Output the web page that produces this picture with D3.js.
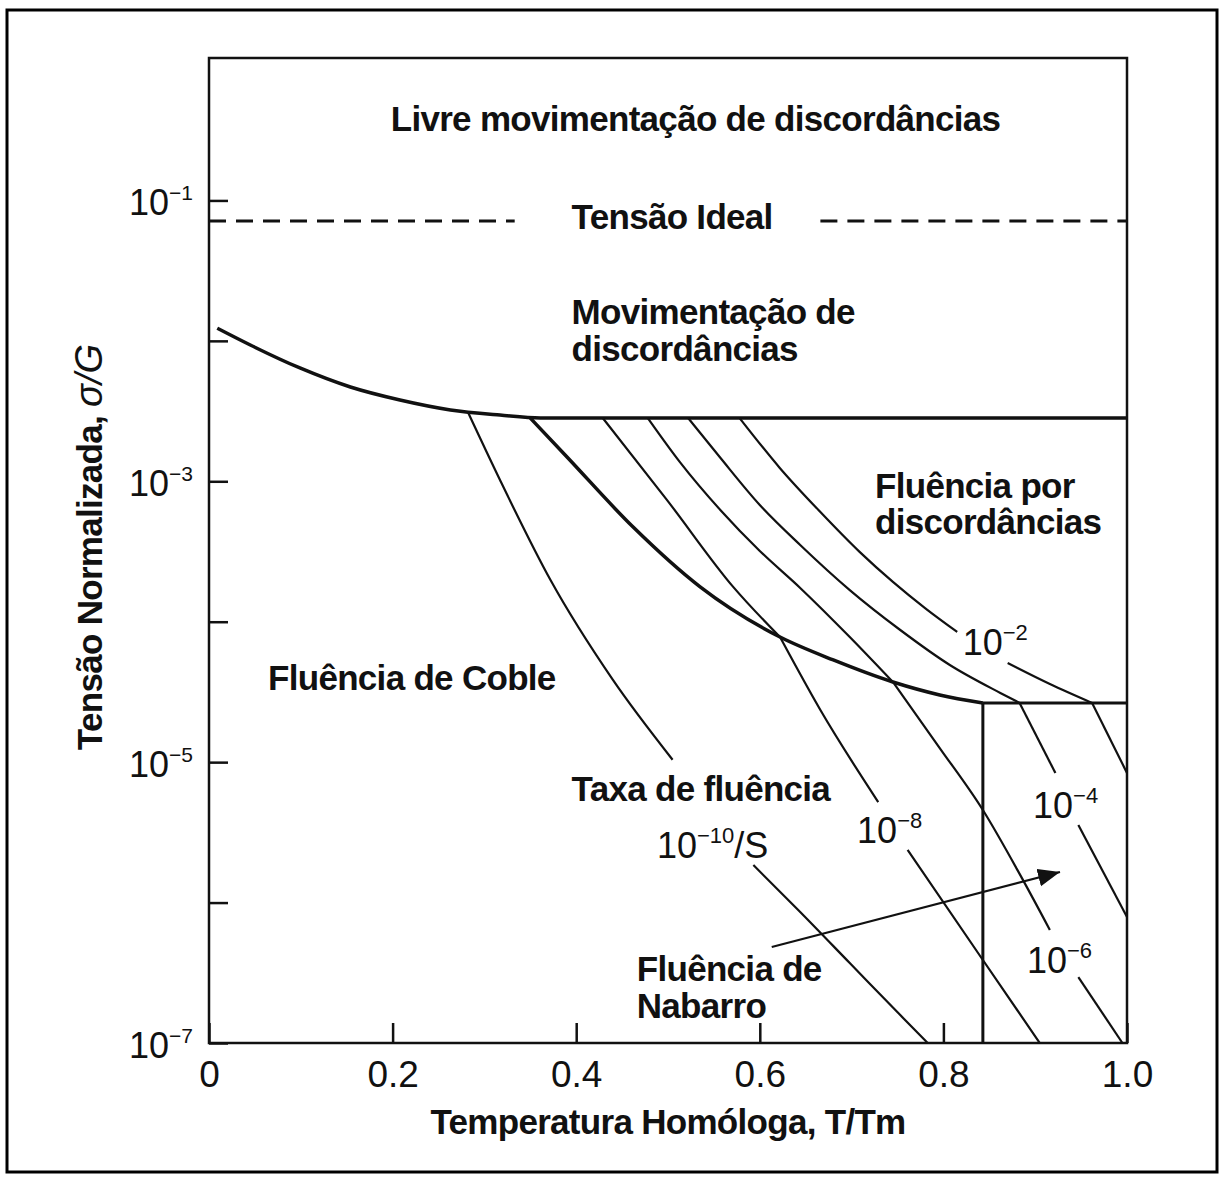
<!doctype html>
<html>
<head>
<meta charset="utf-8">
<style>
    body { margin: 0; background: #fff; }
    svg { font-family: "Liberation Sans", Arial, sans-serif; }
</style>
<script src="https://d3js.org/d3.v7.min.js"></script>
</head>
<body>

<svg id="map" width="1220" height="1177"></svg>

<script>

// axis ticks
var tTicks = [0, 0.2, 0.4, 0.6, 0.8, 1.0];
var sTicks = [1e-1, 1e-2, 1e-3, 1e-4, 1e-5, 1e-6, 1e-7];
var sLabelExp = [-1, -3, -5, -7];

// ideal shear strength (dashed)
var idealStress = 7.14e-2;
var idealSpans = [[0, 0.333], [0.666, 1.0]];

// field boundaries, [T/Tm, sigma/G]
var glideBoundary = [[0.009, 1.23e-2], [0.045, 9.34e-3], [0.099, 6.41e-3], [0.154, 4.69e-3],
  [0.208, 3.79e-3], [0.263, 3.22e-3], [0.317, 2.96e-3], [0.361, 2.82e-3], [1.0, 2.82e-3]];
var diffusionBoundary = [[0.350, 2.82e-3], [0.390, 1.49e-3], [0.462, 4.72e-4], [0.535, 1.77e-4],
  [0.622, 7.78e-5], [0.680, 5.34e-5], [0.745, 3.72e-5], [0.796, 3.01e-5], [0.843, 2.64e-5]];
var latticeBoundary = [[0.843, 2.64e-5], [1.0, 2.64e-5]];
var nabarroBoundary = [[0.843, 2.64e-5], [0.843, 1e-7]];

// strain rate contours (1/s), broken where labels sit
var rate1e10 = [
  [[0.282, 3.11e-3], [0.317, 1.02e-3], [0.372, 1.98e-4], [0.440, 3.85e-5], [0.505, 1.04e-5]],
  [[0.593, 1.85e-6], [0.644, 8.57e-7], [0.698, 3.71e-7], [0.753, 1.58e-7], [0.783, 1e-7]]
];
var rate1e8 = [
  [[0.429, 2.82e-3], [0.499, 7.35e-4], [0.571, 1.77e-4], [0.622, 7.78e-5]],
  [[0.622, 7.78e-5], [0.666, 2.35e-5], [0.729, 5.20e-6]],
  [[0.761, 2.37e-6], [0.843, 3.90e-7], [0.905, 1e-7]]
];
var rate1e6 = [
  [[0.478, 2.82e-3], [0.513, 1.37e-3], [0.557, 6.25e-4], [0.600, 3.19e-4], [0.644, 1.74e-4],
   [0.698, 7.78e-5], [0.745, 3.72e-5]],
  [[0.745, 3.72e-5], [0.796, 1.26e-5], [0.843, 4.56e-6], [0.883, 1.60e-6], [0.916, 6.38e-7]],
  [[0.947, 2.95e-7], [0.995, 1e-7]]
];
var rate1e4 = [
  [[0.522, 2.82e-3], [0.557, 1.47e-3], [0.600, 6.78e-4], [0.644, 3.52e-4], [0.698, 1.68e-4],
   [0.753, 8.73e-5], [0.807, 4.92e-5], [0.862, 3.11e-5], [0.883, 2.64e-5]],
  [[0.883, 2.64e-5], [0.922, 8.37e-6]],
  [[0.947, 3.57e-6], [1.0, 7.89e-7]]
];
var rate1e2 = [
  [[0.578, 2.82e-3], [0.622, 1.24e-3], [0.666, 6.04e-4], [0.709, 3.13e-4], [0.745, 1.92e-4],
   [0.780, 1.25e-4], [0.815, 8.45e-5]],
  [[0.870, 5.08e-5], [0.916, 3.60e-5], [0.962, 2.64e-5]],
  [[0.962, 2.64e-5], [1.0, 8.37e-6]]
];
var contours = [rate1e10, rate1e8, rate1e6, rate1e4, rate1e2];

// arrow pointing into the Nabarro field
var nabarroArrow = [[0.613, 4.83e-7], [0.927, 1.65e-6]];

// field names: [T/Tm, log10(sigma/G), text, anchor]
var fieldNames = [
  [0.530, -0.506, "Livre movimentação de discordâncias", "middle"],
  [0.395, -1.203, "Tensão Ideal", "start"],
  [0.395, -1.880, "Movimentação de", "start"],
  [0.395, -2.143, "discordâncias", "start"],
  [0.7255, -3.119, "Fluência por", "start"],
  [0.7255, -3.375, "discordâncias", "start"],
  [0.0643, -4.486, "Fluência de Coble", "start"],
  [0.395, -5.277, "Taxa de fluência", "start"],
  [0.466, -6.558, "Fluência de", "start"],
  [0.466, -6.822, "Nabarro", "start"]
];
// rate labels: [T/Tm, log10(sigma/G), exponent, suffix]
var rateNames = [
  [0.488, -5.683, "−10", "/S"],
  [0.706, -5.576, "−8", ""],
  [0.821, -4.237, "−2", ""],
  [0.8976, -5.398, "−4", ""],
  [0.891, -6.502, "−6", ""]
];

var svg = d3.select("#map");
var margin = {left: 209, right: 93, top: 58, bottom: 134};
var W = 1220, H = 1177;

var x = d3.scaleLinear().domain([0, 1]).range([margin.left, W - margin.right]);
var y = d3.scaleLog().domain([1e-7, 1]).range([H - margin.bottom, 60]);

var smooth = d3.line().x(function(d) { return x(d[0]); }).y(function(d) { return y(d[1]); })
  .curve(d3.curveMonotoneX);
var straight = d3.line().x(function(d) { return x(d[0]); }).y(function(d) { return y(d[1]); });

// outer frame
svg.append("rect").attr("x", 7).attr("y", 10).attr("width", 1210).attr("height", 1162)
  .attr("fill", "none").attr("stroke", "#000").attr("stroke-width", 3);

// axes with inward ticks
var gx = svg.append("g").attr("transform", "translate(0," + y(1e-7) + ")")
  .call(d3.axisBottom(x).tickValues(tTicks).tickSize(-20).tickPadding(18)
    .tickFormat(function(d) { return d === 0 ? "0" : d3.format(".1f")(d); }));
var gy = svg.append("g").attr("transform", "translate(" + x(0) + ",0)")
  .call(d3.axisLeft(y).tickValues(sTicks).tickSize(-19).tickFormat(""));
gx.select(".domain").remove();
gy.select(".domain").remove();
gx.selectAll("line").attr("stroke", "#111").attr("stroke-width", 2.5);
gy.selectAll("line").attr("stroke", "#111").attr("stroke-width", 2.5);
gx.selectAll("text").attr("font-size", 37).attr("fill", "#111")
  .attr("font-family", "'Liberation Sans', Arial, sans-serif");

// y tick labels with superscripts
var yl = svg.append("g").selectAll("text").data(sLabelExp).enter().append("text")
  .attr("x", x(0) - 16).attr("y", function(d) { return y(Math.pow(10, d)) + 15; })
  .attr("text-anchor", "end").attr("font-size", 36).attr("fill", "#111");
yl.append("tspan").text("10");
yl.append("tspan").attr("dy", -15).attr("font-size", 21).text(function(d) { return "−" + Math.abs(d); });

// plot frame
svg.append("rect").attr("x", x(0)).attr("y", margin.top)
  .attr("width", x(1) - x(0)).attr("height", y(1e-7) - margin.top)
  .attr("fill", "none").attr("stroke", "#111").attr("stroke-width", 2.5);

// ideal strength dashes
svg.append("g").selectAll("line").data(idealSpans).enter().append("line")
  .attr("x1", function(d) { return x(d[0]); }).attr("x2", function(d) { return x(d[1]); })
  .attr("y1", y(idealStress)).attr("y2", y(idealStress))
  .attr("stroke", "#111").attr("stroke-width", 3).attr("stroke-dasharray", "17,10");

// boundaries
svg.append("path").attr("d", smooth(glideBoundary))
  .attr("fill", "none").attr("stroke", "#111").attr("stroke-width", 3.5);
svg.append("path").attr("d", smooth(diffusionBoundary))
  .attr("fill", "none").attr("stroke", "#111").attr("stroke-width", 3.5);
[latticeBoundary, nabarroBoundary].forEach(function(b) {
  svg.append("path").attr("d", straight(b))
    .attr("fill", "none").attr("stroke", "#111").attr("stroke-width", 3);
});

// contours
contours.forEach(function(c) {
  svg.append("g").selectAll("path").data(c).enter().append("path")
    .attr("d", function(s) { return s.length > 2 ? smooth(s) : straight(s); })
    .attr("fill", "none").attr("stroke", "#111").attr("stroke-width", 2.2);
});

// arrow
svg.append("defs").append("marker").attr("id", "head")
  .attr("markerUnits", "userSpaceOnUse").attr("markerWidth", 24).attr("markerHeight", 20)
  .attr("refX", 22).attr("refY", 9).attr("orient", "auto")
  .append("path").attr("d", "M0,0 L22,9 L0,18 Z").attr("fill", "#111");
svg.append("path").attr("d", straight(nabarroArrow))
  .attr("stroke", "#111").attr("stroke-width", 2.2).attr("marker-end", "url(#head)");

// field names
svg.append("g").selectAll("text").data(fieldNames).enter().append("text")
  .attr("x", function(d) { return x(d[0]); })
  .attr("y", function(d) { return y(Math.pow(10, d[1])); })
  .attr("text-anchor", function(d) { return d[3]; })
  .attr("font-size", 35).attr("font-weight", "bold").attr("letter-spacing", "-0.7px")
  .attr("fill", "#111").text(function(d) { return d[2]; });

// rate labels
var rl = svg.append("g").selectAll("text").data(rateNames).enter().append("text")
  .attr("x", function(d) { return x(d[0]); })
  .attr("y", function(d) { return y(Math.pow(10, d[1])); })
  .attr("font-size", 36).attr("fill", "#111");
rl.append("tspan").text("10");
rl.append("tspan").attr("dy", -15).attr("font-size", 22).text(function(d) { return d[2]; });
rl.append("tspan").attr("dy", 15).text(function(d) { return d[3]; });

// axis titles
svg.append("text").attr("x", 668).attr("y", 1134).attr("text-anchor", "middle")
  .attr("font-size", 35).attr("font-weight", "bold").attr("letter-spacing", "-0.7px")
  .attr("fill", "#111").text("Temperatura Homóloga, T/Tm");

var yt = svg.append("text").attr("transform", "translate(102,547) rotate(-90)")
  .attr("text-anchor", "middle").attr("fill", "#111");
yt.append("tspan").attr("font-size", 35).attr("font-weight", "bold").attr("letter-spacing", "-0.7px")
  .text("Tensão Normalizada, ");
yt.append("tspan").attr("font-size", 38).attr("font-style", "italic").text("σ/G");

</script>

</body>
</html>
